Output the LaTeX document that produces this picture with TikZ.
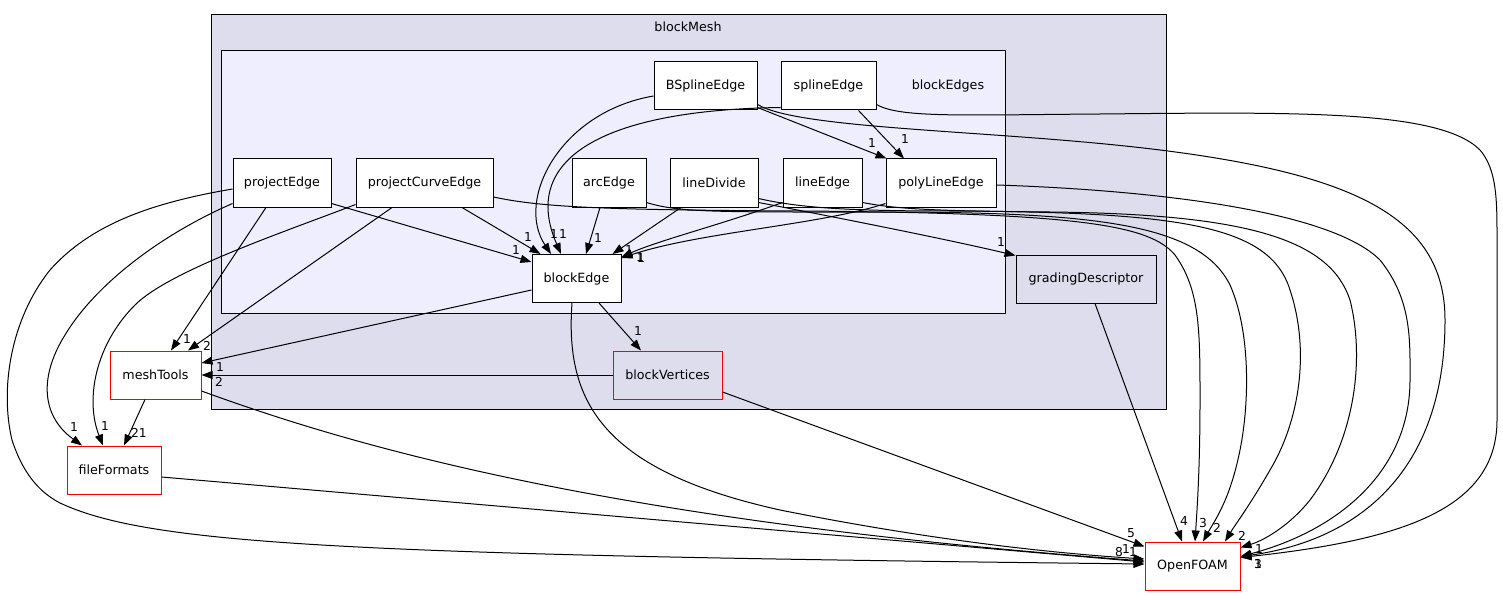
\documentclass[tikz,border=0pt]{standalone}
\usepackage{fontspec}
\setmainfont{DejaVu Sans}
\usetikzlibrary{arrows.meta}

\definecolor{meshbg}{HTML}{DDDDEE}
\definecolor{edgesbg}{HTML}{EEEEFF}

\begin{document}
\begin{tikzpicture}[x=1pt, y=-1pt,
    font=\fontsize{12.7}{14}\selectfont,
    dirnode/.style={draw=black, fill=white, line width=1pt, minimum height=48pt, inner sep=0pt},
    extnode/.style={dirnode, draw=red},
    deparrow/.style={-{Triangle[length=11pt,width=8pt]}, line width=1pt},
    cnt/.style={inner sep=0pt, font=\fontsize{12.3}{12}\selectfont}]

    \useasboundingbox (0,0) rectangle (1503,596);

    % --- Clusters ---
    \draw[fill=meshbg, line width=1pt] (211,15) rectangle (1166,409);
    \node (meshlbl) at (688,27) {blockMesh};
    \draw[fill=edgesbg, line width=1pt] (221,51) rectangle (1005,313);
    \node (edgeslbl) at (948,86) {blockEdges};

    % --- Directories inside blockEdges ---
    \node[dirnode, minimum width=103pt] (BSplineEdge) at (705.5,86) {BSplineEdge};
    \node[dirnode, minimum width=95pt] (splineEdge) at (828.5,86) {splineEdge};
    \node[dirnode, minimum width=98pt] (projectEdge) at (282,183) {projectEdge};
    \node[dirnode, minimum width=137pt] (projectCurveEdge) at (424.5,183) {projectCurveEdge};
    \node[dirnode, minimum width=74pt] (arcEdge) at (609,183) {arcEdge};
    \node[dirnode, minimum width=88pt] (lineDivide) at (714,183) {lineDivide};
    \node[dirnode, minimum width=79pt] (lineEdge) at (822.5,183) {lineEdge};
    \node[dirnode, minimum width=110pt] (polyLineEdge) at (941,183) {polyLineEdge};
    \node[dirnode, minimum width=89pt] (blockEdge) at (576.5,278.5) {blockEdge};

    % --- Other directories ---
    \node[dirnode, fill=meshbg, minimum width=140pt] (gradingDescriptor) at (1086,279) {gradingDescriptor};
    \node[extnode, fill=meshbg, minimum width=109pt] (blockVertices) at (667.5,375) {blockVertices};
    \node[extnode, minimum width=91pt] (meshTools) at (155.5,375) {meshTools};
    \node[extnode, minimum width=94pt] (fileFormats) at (114,470) {fileFormats};
    \node[extnode, minimum width=95pt] (OpenFOAM) at (1192.5,566) {OpenFOAM};

    % --- Into blockEdge ---
    \draw[deparrow] ([yshift=-10pt]BSplineEdge.west) .. controls (560,112) and (515,200) .. ([xshift=-25.5pt]blockEdge.north);
    \draw[deparrow] ([yshift=3pt]splineEdge.south west) .. controls (600,110) and (520,160) .. ([xshift=-15.5pt]blockEdge.north);
    \draw[deparrow] ([yshift=4pt]projectEdge.south east) -- ([yshift=-8pt]blockEdge.north west);
    \draw[deparrow] ([xshift=37.5pt]projectCurveEdge.south) -- ([xshift=9pt]blockEdge.north west);
    \draw[deparrow] ([xshift=-9pt]arcEdge.south) -- ([xshift=9.5pt]blockEdge.north);
    \draw[deparrow] ([xshift=-33pt]lineDivide.south) -- ([xshift=-9pt]blockEdge.north east);
    \draw[deparrow] ([yshift=5pt]lineEdge.south west) .. controls (720,225) and (660,240) .. ([yshift=-3pt]blockEdge.north east);
    \draw[deparrow] ([yshift=4pt]polyLineEdge.south west) .. controls (820,225) and (700,232) .. ([yshift=-4pt]blockEdge.north east);
    \node[cnt] (c1) at (554,234) {1};
    \node[cnt] (c2) at (563,234) {1};
    \node[cnt] (c3) at (516,250) {1};
    \node[cnt] (c4) at (528,237) {1};
    \node[cnt] (c5) at (598,238) {1};
    \node[cnt] (c6) at (629,250) {1};
    \node[cnt] (c7) at (640,257) {1};
    \node[cnt] (c8) at (641,258) {1};

    % --- Into polyLineEdge and gradingDescriptor ---
    \draw[deparrow] ([yshift=3pt]BSplineEdge.south east) -- ([xshift=1pt]polyLineEdge.north west);
    \draw[deparrow] ([xshift=-18pt]splineEdge.south east) -- ([xshift=-37pt]polyLineEdge.north);
    \draw[deparrow] ([yshift=5pt]lineDivide.south east) .. controls (850,220) and (950,240) .. ([yshift=-1pt]gradingDescriptor.north west);
    \node[cnt] (c9) at (872,143) {1};
    \node[cnt] (c10) at (905,139) {1};
    \node[cnt] (c11) at (1001,242) {1};

    % --- Into meshTools, blockVertices, fileFormats ---
    \draw[deparrow] ([yshift=-11.5pt]blockEdge.west) -- ([yshift=12pt]meshTools.east);
    \draw[deparrow] (blockVertices.west) -- (meshTools.east);
    \draw[deparrow] ([xshift=22.5pt]blockEdge.south) -- ([xshift=-26.5pt]blockVertices.north);
    \draw[deparrow] ([xshift=-16pt]projectEdge.south) -- ([xshift=15.5pt]meshTools.north);
    \draw[deparrow] ([xshift=-32.5pt]projectCurveEdge.south) -- ([xshift=32.5pt]meshTools.north);
    \draw[deparrow] ([yshift=4pt]projectEdge.south west) .. controls (160,235) and (95,285) .. (65,335)
        .. controls (40,375) and (40,415) .. ([xshift=-32pt]fileFormats.north);
    \draw[deparrow] ([yshift=3pt]projectCurveEdge.south west) .. controls (290,230) and (170,270) .. (135,305)
        .. controls (95,345) and (85,400) .. ([xshift=-11pt]fileFormats.north);
    \draw[deparrow] ([xshift=-10.5pt]meshTools.south) -- ([xshift=10pt]fileFormats.north);
    \node[cnt] (c12) at (220,367) {1};
    \node[cnt] (c13) at (219,382) {2};
    \node[cnt] (c14) at (638,331) {1};
    \node[cnt] (c15) at (187,339) {1};
    \node[cnt] (c16) at (207,346) {2};
    \node[cnt] (c17) at (74,427) {1};
    \node[cnt] (c18) at (105,426) {1};
    \node[cnt] (c19) at (139,433) {21};

    % --- Into OpenFOAM, from the left ---
    \draw[deparrow] ([xshift=-4.5pt]blockEdge.south) .. controls (565,400) and (600,470) .. (780,510)
        .. controls (930,540) and (1050,553) .. ([yshift=7pt]OpenFOAM.west);
    \draw[deparrow] ([yshift=-16pt]meshTools.east) .. controls (350,445) and (600,520) .. ([yshift=5pt]OpenFOAM.west);
    \draw[deparrow] ([yshift=-7pt]fileFormats.east) -- ([yshift=4pt]OpenFOAM.west);
    \draw[deparrow] ([yshift=-6pt]projectEdge.west) .. controls (150,203) and (90,225) .. (50,270)
        .. controls (10,320) and (0,390) .. (12,440) .. controls (25,480) and (45,495) .. (60,503)
        .. controls (150,545) and (350,555) .. ([yshift=2pt]OpenFOAM.west);
    \draw[deparrow] ([yshift=-17pt]blockVertices.east) -- ([yshift=-5pt]OpenFOAM.north west);
    \node[cnt] (c20) at (1131,533) {5};
    \node[cnt] (c21) at (1119,552) {8};
    \node[cnt] (c22) at (1126,549) {1};
    \node[cnt] (c23) at (1133,552) {1};

    % --- Into OpenFOAM, from above ---
    \draw[deparrow] ([xshift=9pt]gradingDescriptor.south) -- ([xshift=-10.5pt]OpenFOAM.north);
    \draw[deparrow] ([yshift=-14pt]projectCurveEdge.east) .. controls (540,207) and (600,210) .. (800,211)
        .. controls (1080,213) and (1150,225) .. (1175,255) .. controls (1200,290) and (1200,330) .. (1200,400)
        .. controls (1200,470) and (1197,510) .. ([xshift=2.5pt]OpenFOAM.north);
    \draw[deparrow] ([yshift=5pt]arcEdge.south east) .. controls (680,213) and (720,212) .. (900,212)
        .. controls (1100,213) and (1200,225) .. (1230,285) .. controls (1250,330) and (1250,400) .. (1240,450)
        .. controls (1230,500) and (1215,520) .. ([xshift=10.5pt]OpenFOAM.north);
    \draw[deparrow] ([yshift=9pt]lineDivide.south east) .. controls (800,208) and (850,211) .. (950,211)
        .. controls (1180,212) and (1270,225) .. (1290,290) .. controls (1310,350) and (1300,420) .. (1270,470)
        .. controls (1250,505) and (1235,525) .. ([xshift=32.5pt]OpenFOAM.north);
    \node[cnt] (c24) at (1184,521) {4};
    \node[cnt] (c25) at (1203,523) {3};
    \node[cnt] (c26) at (1217,528) {2};
    \node[cnt] (c27) at (1242,536) {2};

    % --- Into OpenFOAM, from the right ---
    \draw[deparrow] ([yshift=5pt]lineEdge.south east) .. controls (900,210) and (950,211) .. (1050,212)
        .. controls (1250,214) and (1330,240) .. (1350,300) .. controls (1365,360) and (1355,440) .. (1310,500)
        .. controls (1290,525) and (1265,540) .. ([yshift=-6pt]OpenFOAM.north east);
    \draw[deparrow] ([yshift=-2pt]polyLineEdge.east) .. controls (1150,190) and (1330,210) .. (1380,260)
        .. controls (1412,300) and (1410,340) .. (1410,380) .. controls (1410,470) and (1340,530) .. ([yshift=-15pt]OpenFOAM.north east);
    \draw[deparrow] ([yshift=6pt]BSplineEdge.south east) .. controls (800,130) and (1000,130) .. (1160,150)
        .. controls (1360,175) and (1445,220) .. (1445,320) .. controls (1445,470) and (1360,540) .. ([yshift=-15pt]OpenFOAM.north east);
    \draw[deparrow] ([yshift=6pt]splineEdge.south east) .. controls (900,118) and (960,115) .. (1100,114)
        .. controls (1300,112) and (1440,110) .. (1480,150) .. controls (1497,170) and (1497,200) .. (1497,240)
        -- (1497,420) .. controls (1497,510) and (1400,540) .. ([yshift=-16pt]OpenFOAM.north east);
    \node[cnt] (c28) at (1259,549) {1};
    \node[cnt] (c29) at (1258,564) {3};
    \node[cnt] (c30) at (1258,564) {1};

\end{tikzpicture}
\end{document}
